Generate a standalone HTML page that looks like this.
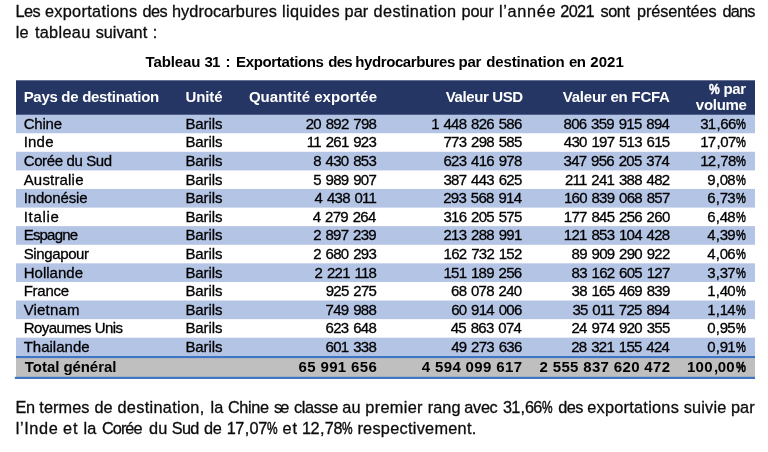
<!DOCTYPE html>
<html><head><meta charset="utf-8"><title>Tableau 31</title>
<style>
html,body{margin:0;padding:0;background:#fff;}
body{width:768px;height:452px;position:relative;overflow:hidden;font-family:"Liberation Sans",sans-serif;color:#000;}
svg.bg{position:absolute;left:0;top:0;}
.L{position:absolute;left:0;top:0;width:768px;height:452px;will-change:transform;}
.e{position:absolute;white-space:nowrap;font-size:15px;line-height:18px;}
.w{font-size:16.3px;line-height:21px;color:#0c0c0c;}
.w.b{font-size:15px;line-height:18px;color:#000;}
.t,.n,.w{-webkit-text-stroke:0.3px currentColor;}
.b{-webkit-text-stroke:0;}
.h{color:#fff;font-weight:bold;}
.b{font-weight:bold;}
.n{letter-spacing:-0.71px;word-spacing:1.24px;}
.n.b{letter-spacing:0;word-spacing:0;}
i{font-style:normal;}
.pc{-webkit-text-stroke:0.5px currentColor;display:inline-block;width:9.6px;margin-left:0.7px;transform:scaleX(0.74);transform-origin:0 50%;letter-spacing:0;}
.pcb{-webkit-text-stroke:0.5px #fff;display:inline-block;width:10.6px;transform:scaleX(0.8);transform-origin:0 50%;letter-spacing:0;}
.pp{-webkit-text-stroke:0.5px currentColor;display:inline-block;width:10.4px;transform:scaleX(0.73);transform-origin:0 50%;letter-spacing:0;}
.pm{margin:0 0.7px 0 0.9px;}
.cm{letter-spacing:-0.4px;margin-left:1.1px;}
</style></head><body>
<svg class="bg" width="768" height="452" viewBox="0 0 768 452">
<rect x="16" y="113.60" width="739" height="19.64" fill="#B4C4E5"/>
<rect x="16" y="151.78" width="739" height="18.64" fill="#B4C4E5"/>
<rect x="16" y="188.96" width="739" height="18.64" fill="#B4C4E5"/>
<rect x="16" y="226.14" width="739" height="18.64" fill="#B4C4E5"/>
<rect x="16" y="263.32" width="739" height="18.64" fill="#B4C4E5"/>
<rect x="16" y="300.50" width="739" height="18.64" fill="#B4C4E5"/>
<rect x="16" y="337.68" width="739" height="18.64" fill="#B4C4E5"/>
<rect x="16" y="80.3" width="739" height="34.4" fill="#253564"/>
<rect x="16" y="357" width="739" height="20.5" fill="#BFBFBF"/>
<rect x="16" y="356.0" width="739" height="2.1" fill="#3E76C3"/>
<rect x="14.9" y="376.8" width="740.1" height="2.2" fill="#3E76C3"/>
</svg>
<div class="L">
<div class="e w" style="left:15.52px;top:1.01px;letter-spacing:-0.607px;">Les</div>
<div class="e w" style="left:44.88px;top:1.01px;letter-spacing:0.323px;">exportations</div>
<div class="e w" style="left:142.51px;top:1.01px;letter-spacing:-0.608px;">des</div>
<div class="e w" style="left:172.00px;top:1.01px;letter-spacing:0.058px;">hydrocarbures</div>
<div class="e w" style="left:282.00px;top:1.01px;letter-spacing:0.335px;">liquides</div>
<div class="e w" style="left:344.62px;top:1.01px;letter-spacing:-0.008px;">par</div>
<div class="e w" style="left:373.51px;top:1.01px;letter-spacing:0.388px;">destination</div>
<div class="e w" style="left:461.62px;top:1.01px;letter-spacing:-0.176px;">pour</div>
<div class="e w" style="left:499.00px;top:1.01px;letter-spacing:0.681px;">l’année</div>
<div class="e w" style="left:560.31px;top:1.01px;letter-spacing:-0.649px;">2021</div>
<div class="e w" style="left:600.39px;top:1.01px;letter-spacing:-0.390px;">sont</div>
<div class="e w" style="left:636.94px;top:1.01px;letter-spacing:-0.099px;">présentées</div>
<div class="e w" style="left:722.51px;top:1.01px;letter-spacing:-0.781px;">dans</div>
<div class="e w" style="left:15.69px;top:22.01px;letter-spacing:0.278px;">le</div>
<div class="e w" style="left:34.92px;top:22.01px;letter-spacing:0.315px;">tableau</div>
<div class="e w" style="left:95.69px;top:22.01px;letter-spacing:-0.016px;">suivant</div>
<div class="e w" style="left:152.66px;top:22.01px;">:</div>
<div class="e w b" style="left:145.53px;top:52.94px;letter-spacing:-0.092px;">Tableau</div>
<div class="e w b" style="left:204.53px;top:52.94px;letter-spacing:-0.884px;">31</div>
<div class="e w b" style="left:225.58px;top:52.94px;">:</div>
<div class="e w b" style="left:236.00px;top:52.94px;letter-spacing:-0.338px;">Exportations</div>
<div class="e w b" style="left:328.24px;top:52.94px;letter-spacing:-0.703px;">des</div>
<div class="e w b" style="left:355.37px;top:52.94px;letter-spacing:-0.426px;">hydrocarbures</div>
<div class="e w b" style="left:458.59px;top:52.94px;letter-spacing:-0.316px;">par</div>
<div class="e w b" style="left:486.35px;top:52.94px;letter-spacing:-0.175px;">destination</div>
<div class="e w b" style="left:568.88px;top:52.94px;letter-spacing:-0.544px;">en</div>
<div class="e w b" style="left:590.23px;top:52.94px;letter-spacing:0.100px;">2021</div>
<div class="e h" style="left:23.66px;top:88.44px;letter-spacing:-0.297px;">Pays de destination</div>
<div class="e h" style="left:185.49px;top:88.44px;letter-spacing:-0.110px;">Unité</div>
<div class="e h" style="left:248.89px;top:88.44px;letter-spacing:0.039px;">Quantité exportée</div>
<div class="e h" style="left:445.77px;top:88.44px;letter-spacing:-0.387px;">Valeur USD</div>
<div class="e h" style="left:562.72px;top:88.44px;letter-spacing:-0.215px;">Valeur en FCFA</div>
<div class="e h" style="left:708.99px;top:79.94px;letter-spacing:-0.326px;"><i class="pcb">%</i> par</div>
<div class="e h" style="left:695.83px;top:96.44px;letter-spacing:-0.291px;">volume</div>
<div class="e t" style="left:23.70px;top:114.89px;letter-spacing:-0.197px;">Chine</div>
<div class="e t" style="left:185.40px;top:114.89px;letter-spacing:-0.095px;">Barils</div>
<div class="e n" style="left:305.71px;top:114.89px;">20 892 798</div>
<div class="e n" style="left:431.14px;top:114.89px;">1 448 826 586</div>
<div class="e n" style="left:563.53px;top:114.89px;">806 359 915 894</div>
<div class="e n" style="left:700.14px;top:114.89px;">31<i class="cm">,</i>66<i class="pc">%</i></div>
<div class="e t" style="left:23.70px;top:133.48px;letter-spacing:0.197px;">Inde</div>
<div class="e t" style="left:185.40px;top:133.48px;letter-spacing:-0.095px;">Barils</div>
<div class="e n" style="left:306.81px;top:133.48px;">11 261 923</div>
<div class="e n" style="left:443.49px;top:133.48px;">773 298 585</div>
<div class="e n" style="left:563.81px;top:133.48px;">430 197 513 615</div>
<div class="e n" style="left:700.14px;top:133.48px;">17<i class="cm">,</i>07<i class="pc">%</i></div>
<div class="e t" style="left:23.70px;top:152.07px;letter-spacing:-0.371px;">Corée du Sud</div>
<div class="e t" style="left:185.40px;top:152.07px;letter-spacing:-0.095px;">Barils</div>
<div class="e n" style="left:313.28px;top:152.07px;">8 430 853</div>
<div class="e n" style="left:443.47px;top:152.07px;">623 416 978</div>
<div class="e n" style="left:563.53px;top:152.07px;">347 956 205 374</div>
<div class="e n" style="left:700.14px;top:152.07px;">12<i class="cm">,</i>78<i class="pc">%</i></div>
<div class="e t" style="left:23.70px;top:170.66px;letter-spacing:0.179px;">Australie</div>
<div class="e t" style="left:185.40px;top:170.66px;letter-spacing:-0.095px;">Barils</div>
<div class="e n" style="left:313.28px;top:170.66px;">5 989 907</div>
<div class="e n" style="left:443.49px;top:170.66px;">387 443 625</div>
<div class="e n" style="left:564.88px;top:170.66px;">211 241 388 482</div>
<div class="e n" style="left:707.14px;top:170.66px;">9<i class="cm">,</i>08<i class="pc">%</i></div>
<div class="e t" style="left:23.70px;top:189.25px;letter-spacing:-0.151px;">Indonésie</div>
<div class="e t" style="left:185.40px;top:189.25px;letter-spacing:-0.095px;">Barils</div>
<div class="e n" style="left:314.55px;top:189.25px;">4 438 011</div>
<div class="e n" style="left:443.19px;top:189.25px;">293 568 914</div>
<div class="e n" style="left:563.88px;top:189.25px;">160 839 068 857</div>
<div class="e n" style="left:707.14px;top:189.25px;">6<i class="cm">,</i>73<i class="pc">%</i></div>
<div class="e t" style="left:23.70px;top:207.84px;letter-spacing:0.687px;">Italie</div>
<div class="e t" style="left:185.40px;top:207.84px;letter-spacing:-0.095px;">Barils</div>
<div class="e n" style="left:312.78px;top:207.84px;">4 279 264</div>
<div class="e n" style="left:443.49px;top:207.84px;">316 205 575</div>
<div class="e n" style="left:563.83px;top:207.84px;">177 845 256 260</div>
<div class="e n" style="left:707.14px;top:207.84px;">6<i class="cm">,</i>48<i class="pc">%</i></div>
<div class="e t" style="left:23.70px;top:226.43px;letter-spacing:-0.813px;">Espagne</div>
<div class="e t" style="left:185.40px;top:226.43px;letter-spacing:-0.095px;">Barils</div>
<div class="e n" style="left:313.14px;top:226.43px;">2 897 239</div>
<div class="e n" style="left:443.48px;top:226.43px;">213 288 991</div>
<div class="e n" style="left:563.81px;top:226.43px;">121 853 104 428</div>
<div class="e n" style="left:707.14px;top:226.43px;">4<i class="cm">,</i>39<i class="pc">%</i></div>
<div class="e t" style="left:23.70px;top:245.02px;letter-spacing:-0.378px;">Singapour</div>
<div class="e t" style="left:185.40px;top:245.02px;letter-spacing:-0.095px;">Barils</div>
<div class="e n" style="left:313.28px;top:245.02px;">2 680 293</div>
<div class="e n" style="left:443.55px;top:245.02px;">162 732 152</div>
<div class="e n" style="left:571.55px;top:245.02px;">89 909 290 922</div>
<div class="e n" style="left:707.14px;top:245.02px;">4<i class="cm">,</i>06<i class="pc">%</i></div>
<div class="e t" style="left:23.70px;top:263.61px;letter-spacing:0.019px;">Hollande</div>
<div class="e t" style="left:185.40px;top:263.61px;letter-spacing:-0.095px;">Barils</div>
<div class="e n" style="left:314.56px;top:263.61px;">2 221 118</div>
<div class="e n" style="left:443.40px;top:263.61px;">151 189 256</div>
<div class="e n" style="left:571.55px;top:263.61px;">83 162 605 127</div>
<div class="e n" style="left:707.14px;top:263.61px;">3<i class="cm">,</i>37<i class="pc">%</i></div>
<div class="e t" style="left:23.70px;top:282.20px;letter-spacing:-0.244px;">France</div>
<div class="e t" style="left:185.40px;top:282.20px;letter-spacing:-0.095px;">Barils</div>
<div class="e n" style="left:325.71px;top:282.20px;">925 275</div>
<div class="e n" style="left:451.01px;top:282.20px;">68 078 240</div>
<div class="e n" style="left:571.50px;top:282.20px;">38 165 469 839</div>
<div class="e n" style="left:707.14px;top:282.20px;">1<i class="cm">,</i>40<i class="pc">%</i></div>
<div class="e t" style="left:23.70px;top:300.79px;letter-spacing:0.172px;">Vietnam</div>
<div class="e t" style="left:185.40px;top:300.79px;letter-spacing:-0.095px;">Barils</div>
<div class="e n" style="left:325.56px;top:300.79px;">749 988</div>
<div class="e n" style="left:451.14px;top:300.79px;">60 914 006</div>
<div class="e n" style="left:572.39px;top:300.79px;">35 011 725 894</div>
<div class="e n" style="left:707.14px;top:300.79px;">1<i class="cm">,</i>14<i class="pc">%</i></div>
<div class="e t" style="left:23.70px;top:319.38px;letter-spacing:-0.541px;">Royaumes Unis</div>
<div class="e t" style="left:185.40px;top:319.38px;letter-spacing:-0.095px;">Barils</div>
<div class="e n" style="left:325.56px;top:319.38px;">623 648</div>
<div class="e n" style="left:450.74px;top:319.38px;">45 863 074</div>
<div class="e n" style="left:571.49px;top:319.38px;">24 974 920 355</div>
<div class="e n" style="left:707.14px;top:319.38px;">0<i class="cm">,</i>95<i class="pc">%</i></div>
<div class="e t" style="left:23.70px;top:337.97px;">Thailande</div>
<div class="e t" style="left:185.40px;top:337.97px;letter-spacing:-0.095px;">Barils</div>
<div class="e n" style="left:325.56px;top:337.97px;">601 338</div>
<div class="e n" style="left:451.14px;top:337.97px;">49 273 636</div>
<div class="e n" style="left:571.19px;top:337.97px;">28 321 155 424</div>
<div class="e n" style="left:707.14px;top:337.97px;">0<i class="cm">,</i>91<i class="pc">%</i></div>
<div class="e t b" style="left:24.85px;top:357.64px;letter-spacing:-0.058px;">Total général</div>
<div class="e n b" style="left:298.48px;top:357.64px;letter-spacing:0.371px;">65 991 656</div>
<div class="e n b" style="left:421.75px;top:357.64px;letter-spacing:0.358px;">4 594 099 617</div>
<div class="e n b" style="left:539.56px;top:357.64px;letter-spacing:0.334px;">2 555 837 620 472</div>
<div class="e n b" style="left:687.00px;top:357.64px;letter-spacing:0.277px;">100<i class="cm">,</i>00<i class="pc">%</i></div>
<div class="e w" style="left:15.41px;top:396.71px;letter-spacing:-0.385px;">En</div>
<div class="e w" style="left:39.30px;top:396.71px;letter-spacing:0.087px;">termes</div>
<div class="e w" style="left:94.51px;top:396.71px;letter-spacing:-0.030px;">de</div>
<div class="e w" style="left:117.51px;top:396.71px;letter-spacing:0.316px;">destination,</div>
<div class="e w" style="left:210.58px;top:396.71px;letter-spacing:0.102px;">la</div>
<div class="e w" style="left:227.89px;top:396.71px;letter-spacing:-0.335px;">Chine</div>
<div class="e w" style="left:273.89px;top:396.71px;letter-spacing:-1.793px;">se</div>
<div class="e w" style="left:293.94px;top:396.71px;letter-spacing:-0.373px;">classe</div>
<div class="e w" style="left:342.36px;top:396.71px;letter-spacing:0.093px;">au</div>
<div class="e w" style="left:365.36px;top:396.71px;letter-spacing:0.312px;">premier</div>
<div class="e w" style="left:427.85px;top:396.71px;letter-spacing:0.011px;">rang</div>
<div class="e w" style="left:464.36px;top:396.71px;letter-spacing:-0.330px;">avec</div>
<div class="e w" style="left:502.95px;top:396.71px;letter-spacing:-0.734px;">31<i class="pm">,</i>66<i class="pp">%</i></div>
<div class="e w" style="left:558.16px;top:396.71px;letter-spacing:-0.521px;">des</div>
<div class="e w" style="left:587.23px;top:396.71px;letter-spacing:0.264px;">exportations</div>
<div class="e w" style="left:683.69px;top:396.71px;letter-spacing:0.197px;">suivie</div>
<div class="e w" style="left:730.94px;top:396.71px;letter-spacing:0.125px;">par</div>
<div class="e w" style="left:15.85px;top:417.71px;letter-spacing:0.589px;">l’Inde</div>
<div class="e w" style="left:63.12px;top:417.71px;letter-spacing:0.735px;">et</div>
<div class="e w" style="left:83.58px;top:417.71px;letter-spacing:0.102px;">la</div>
<div class="e w" style="left:101.98px;top:417.71px;letter-spacing:-0.944px;">Corée</div>
<div class="e w" style="left:148.98px;top:417.71px;letter-spacing:0.345px;">du</div>
<div class="e w" style="left:171.82px;top:417.71px;letter-spacing:-0.700px;">Sud</div>
<div class="e w" style="left:203.98px;top:417.71px;letter-spacing:-0.203px;">de</div>
<div class="e w" style="left:226.65px;top:417.71px;letter-spacing:-0.440px;">17<i class="pm">,</i>07<i class="pp">%</i></div>
<div class="e w" style="left:282.43px;top:417.71px;letter-spacing:0.948px;">et</div>
<div class="e w" style="left:302.01px;top:417.71px;letter-spacing:-0.471px;">12<i class="pm">,</i>78<i class="pp">%</i></div>
<div class="e w" style="left:357.43px;top:417.71px;letter-spacing:0.276px;">respectivement.</div>
</div>
</body></html>
